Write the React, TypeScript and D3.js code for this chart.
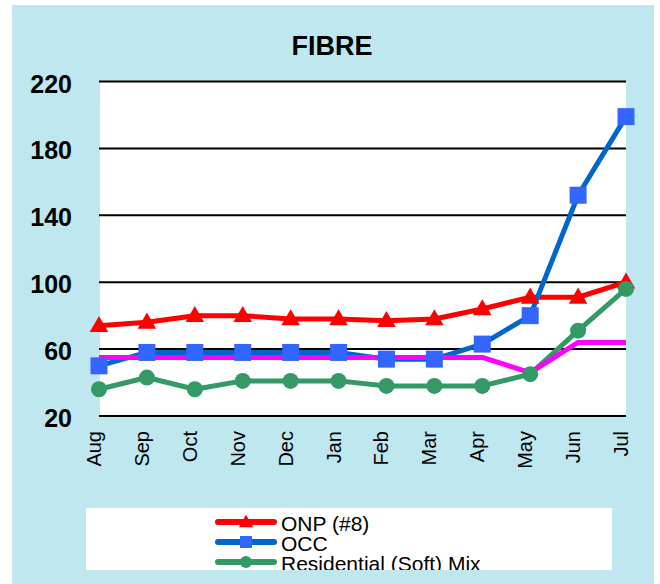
import * as d3 from 'd3'

// chart data
const months = ['Aug', 'Sep', 'Oct', 'Nov', 'Dec', 'Jan', 'Feb', 'Mar', 'Apr', 'May', 'Jun', 'Jul']
const onp = [74, 76, 80, 80, 78, 78, 77, 78, 84, 91, 91, 100]
const occ = [50, 58, 58, 58, 58, 58, 54, 54, 63, 80, 152, 199]
const residential = [36, 43, 36, 41, 41, 41, 38, 38, 38, 45, 71, 96]
const mixed = [55, 55, 55, 55, 55, 55, 55, 55, 55, 46, 64, 64]
const yTicks = [20, 60, 100, 140, 180, 220]

const W = 660
const H = 584
const FONT = 'Arial, "Liberation Sans", Helvetica, sans-serif'

export default function App() {
  const x = d3.scalePoint<string>().domain(months).range([99, 626])
  const y = d3.scaleLinear().domain([20, 220]).range([416, 81.5])

  const line = d3.line<number>()
    .x((_, i) => x(months[i]) as number)
    .y(d => y(d))

  const tri = d3.symbol().type(d3.symbolTriangle).size(150)
  const triSmall = d3.symbol().type(d3.symbolTriangle).size(90)

  const series = [
    { name: 'ONP (#8)', data: onp, stroke: '#ff0000', fill: '#ff0000', marker: 'tri' },
    { name: 'OCC', data: occ, stroke: '#0066cc', fill: '#3366ff', marker: 'sq' },
    { name: 'Residential (Soft) Mix', data: residential, stroke: '#339966', fill: '#339966', marker: 'circ' },
    { name: 'Mixed', data: mixed, stroke: '#ff00ff', fill: 'none', marker: 'none' },
  ]

  const marker = (m: string, cx: number, cy: number, fill: string, key: any, small = false) => {
    if (m === 'tri') return <path key={key} d={(small ? triSmall : tri)() as string} transform={`translate(${cx},${cy + 1})`} fill={fill} />
    if (m === 'sq') {
      const s = small ? 12 : 17
      return <rect key={key} x={cx - s / 2} y={cy - s / 2} width={s} height={s} fill={fill} />
    }
    if (m === 'circ') return <circle key={key} cx={cx} cy={cy} r={small ? 6 : 8} fill={fill} />
    return null
  }

  return (
    <svg width={W} height={H} style={{ position: 'absolute', left: 0, top: 0, fontFamily: FONT }}>
      <defs>
        <clipPath id="legclip">
          <rect x={86} y={508} width={526} height={62} />
        </clipPath>
      </defs>
      <rect x={0} y={0} width={W} height={H} fill="#fff" />
      <rect x={12} y={5} width={642} height={H} fill="#bfe7ef" />
      <rect x={100} y={y(220)} width={526} height={y(20) - y(220)} fill="#fff" />

      <text x={332} y={55} textAnchor="middle" fontSize={27} fontWeight="bold">FIBRE</text>

      {yTicks.map(t => (
        <g key={t}>
          <line x1={99} x2={626} y1={y(t)} y2={y(t)} stroke="#000" strokeWidth={2} />
          <text x={72} y={y(t) + 11} textAnchor="end" fontSize={25} fontWeight="bold">{t}</text>
        </g>
      ))}

      {months.map(m => (
        <text key={m} transform={`translate(${(x(m) as number) + 2},431) rotate(-90)`} textAnchor="end" fontSize={20}>{m}</text>
      ))}

      {series.map(s => (
        <path key={s.name} d={line(s.data) as string} fill="none" stroke={s.stroke} strokeWidth={5} strokeLinejoin="round" />
      ))}
      {series.map(s => s.data.map((v, i) => marker(s.marker, x(months[i]) as number, y(v), s.fill, s.name + i)))}

      <rect x={86} y={508} width={526} height={62} fill="#fff" />
      <g clipPath="url(#legclip)">
        {series.slice(0, 3).map((s, i) => {
          const ly = 522 + i * 20
          return (
            <g key={s.name}>
              <line x1={218} x2={274} y1={ly} y2={ly} stroke={s.stroke} strokeWidth={6} strokeLinecap="round" />
              {marker(s.marker, 246, ly, s.fill, 'l' + i, true)}
              <text x={281} y={ly + 9} fontSize={21}>{s.name}</text>
            </g>
          )
        })}
      </g>
    </svg>
  )
}
